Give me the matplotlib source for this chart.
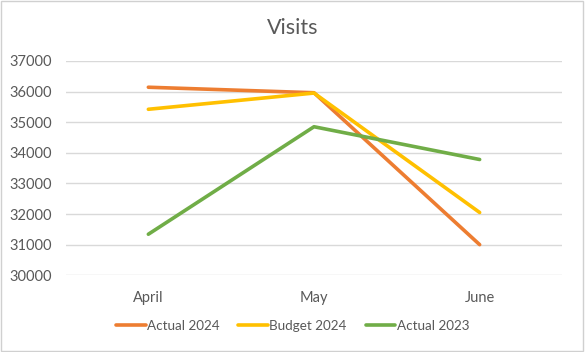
import matplotlib
matplotlib.use("Agg")
import matplotlib.pyplot as plt
from matplotlib.patches import Rectangle

months = ["April", "May", "June"]
actual_2024 = [36140, 35960, 31000]
budget_2024 = [35420, 35950, 32050]
actual_2023 = [31340, 34850, 33780]
yticks = [30000, 31000, 32000, 33000, 34000, 35000, 36000, 37000]

plt.rcParams['font.family'] = ['Lato', 'DejaVu Sans']
txt = '#595959'

fig = plt.figure(figsize=(5.85, 3.52), dpi=100)
fig.patches.append(Rectangle((0.002, 0.003), 0.995, 0.994, transform=fig.transFigure,
                             fill=False, edgecolor='#d0d0d0', linewidth=1))
ax = fig.add_axes([0.112, 0.218, 0.8495, 0.609])
x = range(len(months))
ax.plot(x, actual_2024, color='#ED7D31', lw=2.6, label='Actual 2024', solid_capstyle='round')
ax.plot(x, budget_2024, color='#FFC000', lw=2.6, label='Budget 2024', solid_capstyle='round')
ax.plot(x, actual_2023, color='#70AD47', lw=2.6, label='Actual 2023', solid_capstyle='round')
ax.set_xlim(-0.5, 2.5)
ax.set_ylim(30000, 37000)
ax.set_yticks(yticks)
ax.set_yticklabels([str(v) for v in yticks], fontsize=10.5, color=txt)
ax.set_xticks(list(x))
ax.set_xticklabels(months, fontsize=10.5, color=txt)
ax.tick_params(length=0, pad=11)
ax.tick_params(axis='y', pad=10)
ax.grid(axis='y', color='#d9d9d9', lw=1)
ax.set_axisbelow(True)
for s in ax.spines.values():
    s.set_visible(False)
fig.text(0.5, 0.92, 'Visits', ha='center', va='center', fontsize=15.5, color=txt)
fig.legend(loc='center', bbox_to_anchor=(0.5, 0.074), ncol=3, frameon=False,
           fontsize=9.7, labelcolor=txt, handlelength=2.2, handletextpad=0.1, columnspacing=1.4)
fig.savefig('out.png', dpi=100)
